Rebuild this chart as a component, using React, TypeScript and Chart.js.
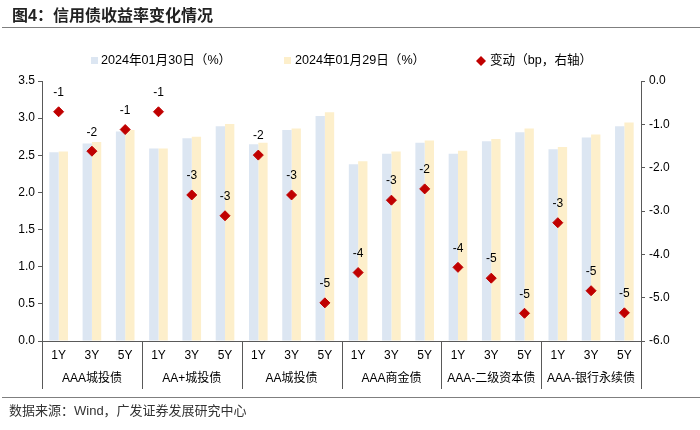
import React, { useEffect, useRef } from "react";
import { Chart, registerables } from "chart.js";

Chart.register(...registerables);

const groups = ["AAA城投债", "AA+城投债", "AA城投债", "AAA商金债", "AAA-二级资本债", "AAA-银行永续债"];
const terms = ["1Y", "3Y", "5Y"];
const categories = groups.flatMap(() => terms);

const yield0130 = [2.54, 2.66, 2.82, 2.59, 2.73, 2.89, 2.65, 2.84, 3.03, 2.38, 2.52, 2.67, 2.52, 2.69, 2.81, 2.58, 2.74, 2.89];
const yield0129 = [2.55, 2.68, 2.84, 2.59, 2.75, 2.92, 2.67, 2.86, 3.08, 2.42, 2.55, 2.70, 2.56, 2.72, 2.86, 2.61, 2.78, 2.94];
const changeBp = [-0.71, -1.62, -1.12, -0.71, -2.63, -3.11, -1.71, -2.63, -5.12, -4.42, -2.75, -2.49, -4.30, -4.55, -5.36, -3.27, -4.84, -5.35];

const leftTicks = [0, 0.5, 1, 1.5, 2, 2.5, 3, 3.5];
const rightTicks = [-6, -5, -4, -3, -2, -1, 0];

const seriesLabels = ["2024年01月30日（%）", "2024年01月29日（%）", "变动（bp，右轴）"];
const title = "图4：信用债收益率变化情况";
const source = "数据来源：Wind，广发证券发展研究中心";

const FONT = '"Liberation Sans", "Noto Sans CJK SC", sans-serif';
const BLUE = "#DCE6F2";
const YELLOW = "#FDEFCB";
const RED = "#C00000";
const AXIS = "#595959";

export default function App() {
  const ref = useRef<HTMLCanvasElement | null>(null);

  useEffect(() => {
    document.body.style.margin = "0";
    const canvas = ref.current;
    if (!canvas) return;

    const overlay = {
      id: "overlay",
      afterDatasetsDraw(chart: any) {
        const ctx = chart.ctx;
        const area = chart.chartArea;
        const xs = chart.scales.x;
        ctx.save();
        // point labels
        const meta = chart.getDatasetMeta(2);
        ctx.font = `12px ${FONT}`;
        ctx.fillStyle = "#000";
        ctx.textAlign = "center";
        ctx.textBaseline = "middle";
        meta.data.forEach((el: any, i: number) => {
          ctx.fillText(String(Math.round(changeBp[i])), el.x, el.y - 19);
        });
        // group separators and labels
        const n = categories.length;
        const cw = (area.right - area.left) / n;
        ctx.strokeStyle = AXIS;
        ctx.lineWidth = 1;
        for (let g = 0; g <= groups.length; g++) {
          const x = Math.round(area.left + g * 3 * cw) + 0.5;
          ctx.beginPath();
          ctx.moveTo(x, area.bottom);
          ctx.lineTo(x, area.bottom + 48);
          ctx.stroke();
        }
        ctx.font = `12px ${FONT}`;
        groups.forEach((g, i) => {
          const cx = (xs.getPixelForValue(i * 3) + xs.getPixelForValue(i * 3 + 2)) / 2;
          ctx.fillText(g, cx, area.bottom + 38);
        });
        // legend
        const ly = 61;
        ctx.textAlign = "left";
        ctx.fillStyle = BLUE;
        ctx.fillRect(91, ly - 4, 7, 7);
        ctx.fillStyle = YELLOW;
        ctx.fillRect(284, ly - 4, 7, 7);
        ctx.fillStyle = RED;
        ctx.beginPath();
        ctx.moveTo(481, ly - 5);
        ctx.lineTo(486, ly);
        ctx.lineTo(481, ly + 5);
        ctx.lineTo(476, ly);
        ctx.closePath();
        ctx.fill();
        ctx.fillStyle = "#000";
        ctx.font = `12.6px ${FONT}`;
        ctx.fillText(seriesLabels[0], 101, ly);
        ctx.fillText(seriesLabels[1], 295, ly);
        ctx.fillText(seriesLabels[2], 490, ly);
        ctx.restore();
      },
    };

    const chart = new Chart(canvas, {
      type: "bar",
      data: {
        labels: categories,
        datasets: [
          {
            type: "bar",
            label: seriesLabels[0],
            data: yield0130,
            backgroundColor: BLUE,
            yAxisID: "y",
            order: 1,
            categoryPercentage: 0.56,
            barPercentage: 1,
          },
          {
            type: "bar",
            label: seriesLabels[1],
            data: yield0129,
            backgroundColor: YELLOW,
            yAxisID: "y",
            order: 1,
            categoryPercentage: 0.56,
            barPercentage: 1,
          },
          {
            type: "line",
            label: seriesLabels[2],
            data: changeBp,
            yAxisID: "y1",
            showLine: false,
            pointStyle: "rectRot",
            pointRadius: 5,
            pointBackgroundColor: RED,
            pointBorderColor: RED,
            pointBorderWidth: 1,
            order: 0,
          } as any,
        ],
      },
      options: {
        responsive: false,
        animation: false,
        layout: { padding: { top: 81, left: 0, right: 0, bottom: 0 } },
        plugins: { legend: { display: false }, tooltip: { enabled: false }, title: { display: false } },
        scales: {
          x: {
            type: "category",
            grid: { display: false, drawTicks: false },
            border: { display: true, color: AXIS, width: 1 },
            ticks: { font: { family: FONT, size: 12 }, color: "#000", padding: 7, maxRotation: 0, autoSkip: false },
            afterFit: (s: any) => { s.height = 89; },
          },
          y: {
            position: "left",
            min: leftTicks[0],
            max: leftTicks[leftTicks.length - 1],
            afterBuildTicks: (s: any) => { s.ticks = leftTicks.map((v) => ({ value: v })); },
            ticks: { font: { family: FONT, size: 12 }, color: "#000", padding: 3, callback: (v: any) => Number(v).toFixed(1) },
            grid: { drawOnChartArea: false, drawTicks: true, tickLength: 4, color: AXIS },
            border: { display: true, color: AXIS, width: 1 },
            afterFit: (s: any) => { s.width = 42; },
          },
          y1: {
            position: "right",
            min: rightTicks[0],
            max: rightTicks[rightTicks.length - 1],
            afterBuildTicks: (s: any) => { s.ticks = rightTicks.map((v) => ({ value: v })); },
            ticks: { font: { family: FONT, size: 12 }, color: "#000", padding: 4, callback: (v: any) => Number(v).toFixed(1) },
            grid: { drawOnChartArea: false, drawTicks: true, tickLength: 4, color: AXIS },
            border: { display: true, color: AXIS, width: 1 },
            afterFit: (s: any) => { s.width = 59; },
          },
        },
      },
      plugins: [overlay],
    });
    return () => chart.destroy();
  }, []);

  return (
    <div style={{ position: "relative", width: 700, height: 430, background: "#fff", overflow: "hidden" }}>
      <canvas ref={ref} width={700} height={430} style={{ position: "absolute", left: 0, top: 0 }} />
      <div
        style={{
          position: "absolute",
          left: 12,
          top: 5,
          fontFamily: FONT,
          fontWeight: "bold",
          fontSize: 16,
          color: "#222",
          lineHeight: "22px",
          whiteSpace: "nowrap",
        }}
      >
        {title}
      </div>
      <div style={{ position: "absolute", left: 2, right: 0, top: 27, height: 1, background: "#7f7f7f" }} />
      <div style={{ position: "absolute", left: 2, right: 0, top: 397, height: 1, background: "#7f7f7f" }} />
      <div
        style={{
          position: "absolute",
          left: 9,
          top: 402,
          fontFamily: FONT,
          fontSize: 13,
          color: "#333",
          lineHeight: "18px",
          whiteSpace: "nowrap",
        }}
      >
        {source}
      </div>
    </div>
  );
}
